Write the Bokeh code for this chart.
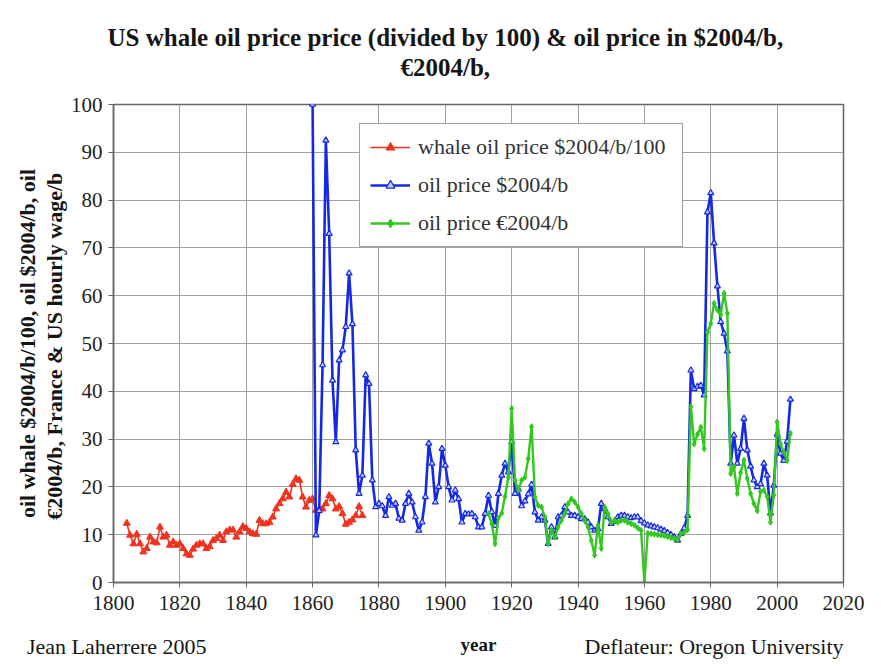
import math
from bokeh.plotting import figure
from bokeh.models import Legend, LegendItem, FixedTicker, Range1d, Title, LinearAxis
from bokeh.embed import file_html
from bokeh.resources import INLINE

# ---------------- data ----------------
whale_years = list(range(1804, 1876))
whale_price = [12.4, 9.9, 8.1, 10.1, 8.1, 6.4, 7.1, 9.5, 8.5, 8.3,
               11.6, 9.5, 9.9, 7.8, 8.5, 7.8, 8.1, 7.1, 6.0, 5.7,
               7.0, 7.8, 8.1, 8.1, 7.1, 7.5, 8.8, 9.2, 9.9, 8.8,
               10.6, 11.0, 11.0, 9.5, 10.6, 11.7, 11.3, 10.6, 10.2, 10.1,
               13.0, 12.3, 12.3, 12.6, 13.7, 15.4, 16.5, 17.5, 18.9, 17.9,
               20.5, 21.7, 21.4, 17.9, 15.8, 17.2, 17.5, 15.1, 15.4, 15.4,
               16.5, 18.2, 17.5, 15.4, 15.9, 14.4, 12.2, 12.6, 13.1, 14.0,
               15.9, 14.0]

usd_years = list(range(1860, 2005))
usd_price = [100.0, 9.9, 15.0, 45.5, 92.5, 73.0, 42.3, 29.4, 46.5, 48.6,   # 1860-69
             53.5, 64.7, 54.1, 27.7, 18.6, 22.4, 43.4, 41.6, 21.4, 15.8,   # 1870-79
             16.5, 16.0, 14.0, 17.9, 16.1, 16.5, 13.4, 13.0, 16.5, 18.6,   # 1880-89
             16.8, 13.7, 10.9, 12.6, 17.9, 29.1, 24.9, 16.8, 20.0, 28.0,   # 1890-99
             24.5, 20.0, 17.2, 19.3, 17.5, 12.6, 14.4, 14.3, 14.4, 13.7,   # 1900-09
             11.6, 11.6, 14.4, 18.2, 14.8, 11.9, 18.6, 22.4, 24.9, 23.1,   # 1910-19
             29.4, 18.6, 19.5, 16.0, 17.0, 18.5, 20.5, 14.7, 13.0, 13.7,   # 1920-29
             13.0, 8.1, 11.6, 9.5, 13.7, 14.0, 15.8, 14.7, 14.0, 14.0,     # 1930-39
             13.7, 13.3, 13.3, 12.6, 11.6, 10.9, 11.2, 16.5, 15.4, 13.7,   # 1940-49
             12.3, 12.8, 13.7, 14.0, 14.0, 13.7, 13.5, 13.7, 13.7, 12.9,   # 1950-59
             12.4, 12.0, 11.8, 11.6, 11.4, 11.1, 10.8, 10.4, 10.0, 9.5,    # 1960-69
             8.8, 10.2, 11.4, 14.0, 44.4, 40.5, 41.0, 41.2, 39.2, 77.5,    # 1970-79
             81.5, 71.0, 62.0, 54.5, 52.1, 48.4, 24.9, 30.8, 24.9, 28.0,   # 1980-89
             34.3, 27.7, 24.3, 21.4, 20.0, 20.6, 24.9, 22.4, 14.5, 20.3,   # 1990-99
             31.0, 27.0, 25.5, 29.5, 38.3]                                  # 2000-04

eur_years = list(range(1913, 2005))
eur_price = [14.4, 12.3, 8.1, 13.5, 14.5, 18.0, 22.0,                       # 1913-19
             36.4, 21.4, 19.3, 21.4, 22.0, 25.9, 32.6, 17.9, 16.1, 15.8,   # 1920-29
             13.7, 8.1, 10.9, 9.5, 11.6, 13.0, 14.4, 16.5, 17.5, 16.8,     # 1930-39
             15.8, 14.4, 13.0, 11.6, 8.8, 5.7, 12.0, 7.1, 15.8, 14.4,      # 1940-49
             12.6, 13.0, 12.6, 13.0, 13.0, 12.6, 12.3, 12.0, 11.4, 10.9,   # 1950-59
             0.0, 10.3, 10.2, 10.1, 10.0, 9.9, 9.8, 9.6, 9.4, 9.2,         # 1960-69
             9.0, 10.2, 10.5, 11.0, 36.8, 29.0, 31.0, 32.5, 28.0, 52.4,    # 1970-79
             54.2, 58.4, 57.0, 56.0, 60.5, 56.3, 22.8, 24.2, 18.6, 23.0,   # 1980-89
             25.6, 21.8, 18.6, 16.5, 15.0, 19.0, 19.3, 18.0, 12.6, 18.3,   # 1990-99
             33.6, 29.0, 27.3, 25.5, 31.2]                                  # 2000-04

x_ticks = [1800, 1820, 1840, 1860, 1880, 1900, 1920, 1940, 1960, 1980, 2000, 2020]
y_ticks = [0, 10, 20, 30, 40, 50, 60, 70, 80, 90, 100]

legend_labels = ["whale oil price $2004/b/100", "oil price $2004/b", "oil price \u20ac2004/b"]
title_lines = ["US whale oil price price (divided by 100) & oil price in $2004/b,", "\u20ac2004/b,"]
ylabel_lines = ["oil whale $2004/b/100, oil $2004/b, oil", "\u20ac2004/b, France & US  hourly wage/b"]
x_label = "year"
credit_left = "Jean Laherrere 2005"
credit_right = "Deflateur: Oregon University"

# ---------------- figure ----------------
SERIF = "Liberation Serif"
RED = "#f0321e"
BLUE = "#1428e6"
GREEN = "#32c81e"
INK = "#151515"

p = figure(width=872, height=668, output_backend="svg", toolbar_location=None,
           title=None,
           x_range=Range1d(1800, 2020), y_range=Range1d(0, 100),
           min_border_left=113, min_border_right=29,
           min_border_top=104, min_border_bottom=86)

p.background_fill_color = "white"
p.border_fill_color = "white"
p.outline_line_color = "#666666"
p.outline_line_width = 1.5

main_x = p.xaxis[0]
main_y = p.yaxis[0]
main_x.ticker = FixedTicker(ticks=x_ticks)
main_y.ticker = FixedTicker(ticks=y_ticks)
for ax in (main_x, main_y):
    ax.major_label_text_font = SERIF
    ax.major_label_text_font_size = "21px"
    ax.major_label_text_color = "#222222"
    ax.axis_line_color = "#666666"
    ax.axis_line_width = 1.5
    ax.major_tick_line_color = "#666666"
    ax.major_tick_in = 0
    ax.major_tick_out = 5
    ax.minor_tick_line_color = None
main_x.major_label_standoff = 8
main_y.major_label_standoff = 6

main_x.axis_label = x_label
main_x.axis_label_text_font = SERIF
main_x.axis_label_text_font_size = "19px"
main_x.axis_label_text_font_style = "bold"
main_x.axis_label_text_color = INK
main_x.axis_label_standoff = 21

p.grid.grid_line_color = "#a0a0a0"
p.grid.grid_line_width = 1


def text_axis(pos, labels, size, bold, standoff):
    """An axis with no line/ticks used only to carry free text at given x positions."""
    ticks = list(labels.keys())
    ax = LinearAxis(ticker=FixedTicker(ticks=ticks), major_label_overrides=labels)
    ax.axis_line_color = None
    ax.major_tick_line_color = None
    ax.minor_tick_line_color = None
    ax.major_tick_out = 0
    ax.major_tick_in = 0
    ax.major_label_standoff = standoff
    ax.major_label_text_font = SERIF
    ax.major_label_text_font_size = size
    ax.major_label_text_font_style = "bold" if bold else "normal"
    ax.major_label_text_color = INK
    p.add_layout(ax, pos)
    return ax


# two-line title, centred over x = 1900
text_axis("above", {1900: title_lines[1]}, "25px", True, 24)
text_axis("above", {1900: title_lines[0]}, "25px", True, 0)

# footer credits on the same row as "year"
text_axis("below", {1801: credit_left, 1981: credit_right}, "22px", False, -24)

# y label lines (stacked on left)
y2 = Title(text=ylabel_lines[1], align="center", text_font=SERIF, text_font_size="22px",
           text_font_style="bold", text_color=INK, standoff=1)
y1 = Title(text=ylabel_lines[0], align="center", text_font=SERIF, text_font_size="22px",
           text_font_style="bold", text_color=INK, standoff=0)
p.add_layout(y2, "left")
p.add_layout(y1, "left")

# series
r_line = p.line(whale_years, whale_price, line_color=RED, line_width=1.6)
r_mark = p.scatter(whale_years, whale_price, marker="triangle", size=7,
                   fill_color=RED, line_color=RED)

b_line = p.line(usd_years, usd_price, line_color=BLUE, line_width=2.6)
b_mark = p.scatter(usd_years, usd_price, marker="triangle", size=6,
                   fill_color="#c8d0ff", line_color=BLUE, line_width=1.2)

g_line = p.line(eur_years, eur_price, line_color=GREEN, line_width=2.4)
g_mark = p.scatter(eur_years, eur_price, marker="diamond", size=6,
                   fill_color=GREEN, line_color=GREEN)

legend = Legend(items=[
    LegendItem(label=legend_labels[0], renderers=[r_line, r_mark]),
    LegendItem(label=legend_labels[1], renderers=[b_line, b_mark]),
    LegendItem(label=legend_labels[2], renderers=[g_line, g_mark]),
], location=(246, 335))
legend.label_text_font = SERIF
legend.label_text_font_size = "22px"
legend.label_text_color = "#333333"
legend.border_line_color = "#444444"
legend.border_line_width = 1.5
legend.background_fill_color = "white"
legend.background_fill_alpha = 1.0
legend.glyph_width = 40
legend.glyph_height = 22
legend.label_height = 22
legend.label_width = 254
legend.spacing = 12
legend.padding = 10
legend.margin = 0
legend.label_standoff = 8
p.add_layout(legend, "center")

open("out.html", "w").write(file_html(p, INLINE))
